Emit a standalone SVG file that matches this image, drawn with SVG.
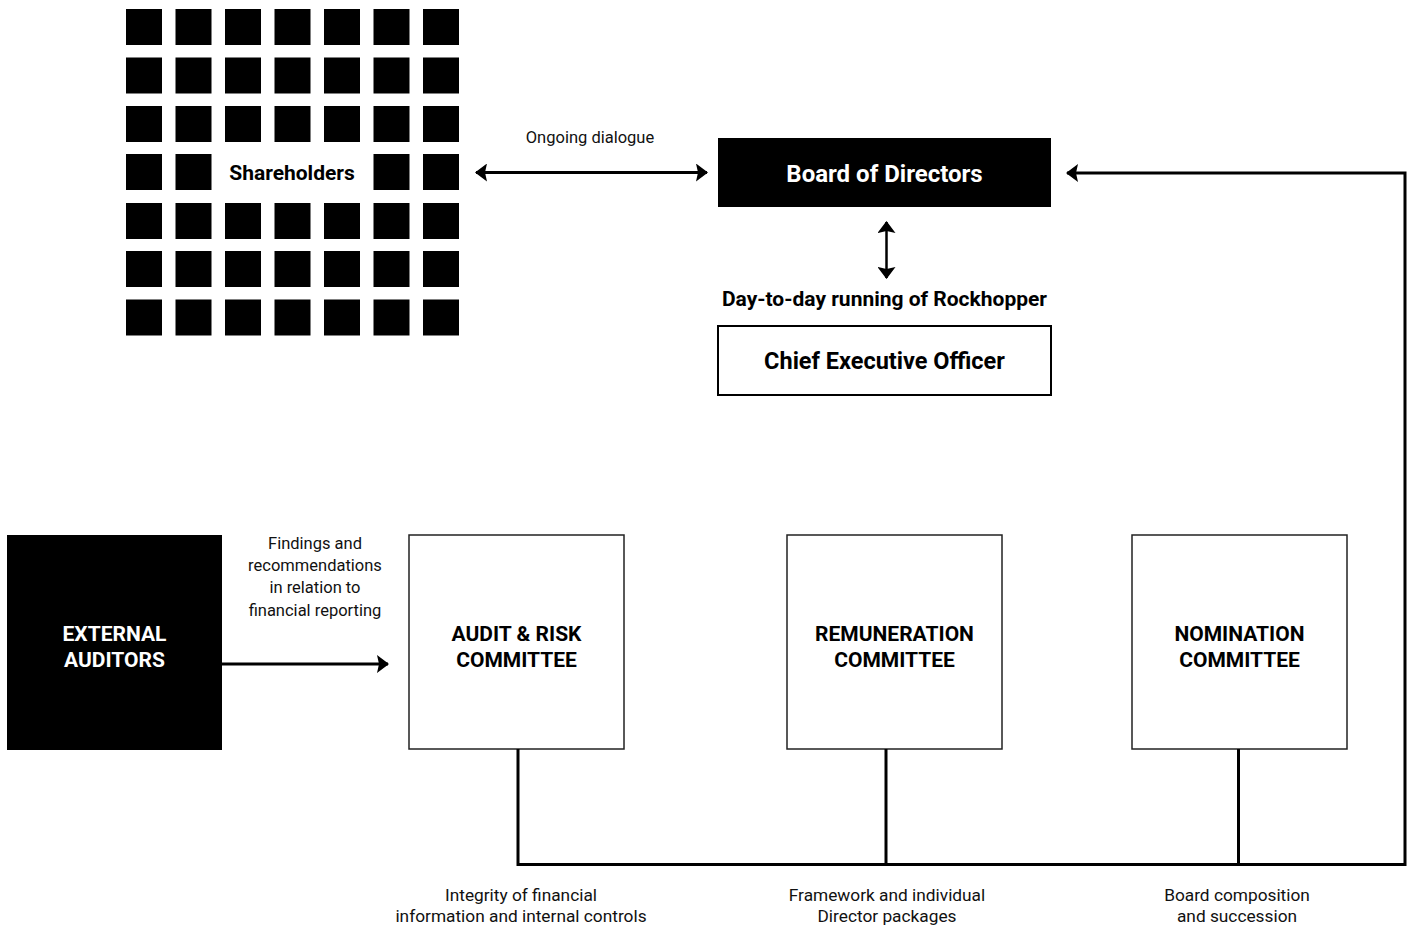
<svg xmlns="http://www.w3.org/2000/svg" width="1413" height="927" viewBox="0 0 1413 927">
<style>
.sq{fill:#000}
.bold{font-family:Roboto,"Liberation Sans",sans-serif;font-weight:bold;text-anchor:middle}
.reg{font-family:Roboto,"Liberation Sans",sans-serif;font-size:16.5px;text-anchor:middle;fill:#111}
.reg2{font-family:Roboto,"Liberation Sans",sans-serif;font-size:17.3px;text-anchor:middle;fill:#111}
.box{fill:#fff;stroke:#222;stroke-width:1.5}
.line{fill:none;stroke:#000;stroke-width:3}
</style>
<defs>
<marker id="ah" viewBox="0 0 12 18" refX="11" refY="9" markerWidth="12" markerHeight="18" markerUnits="userSpaceOnUse" orient="auto-start-reverse">
<path d="M0,0 L12,9 L0,18 L2,9 Z" fill="#000"/>
</marker>
</defs>
<rect width="1413" height="927" fill="#fff"/>
<g id="shareholders">
<g id="grid">
<rect class="sq" x="126" y="9" width="36" height="36"/><rect class="sq" x="175.5" y="9" width="36" height="36"/><rect class="sq" x="225" y="9" width="36" height="36"/><rect class="sq" x="274.5" y="9" width="36" height="36"/><rect class="sq" x="324" y="9" width="36" height="36"/><rect class="sq" x="373.5" y="9" width="36" height="36"/><rect class="sq" x="423" y="9" width="36" height="36"/>
<rect class="sq" x="126" y="57.5" width="36" height="36"/><rect class="sq" x="175.5" y="57.5" width="36" height="36"/><rect class="sq" x="225" y="57.5" width="36" height="36"/><rect class="sq" x="274.5" y="57.5" width="36" height="36"/><rect class="sq" x="324" y="57.5" width="36" height="36"/><rect class="sq" x="373.5" y="57.5" width="36" height="36"/><rect class="sq" x="423" y="57.5" width="36" height="36"/>
<rect class="sq" x="126" y="106" width="36" height="36"/><rect class="sq" x="175.5" y="106" width="36" height="36"/><rect class="sq" x="225" y="106" width="36" height="36"/><rect class="sq" x="274.5" y="106" width="36" height="36"/><rect class="sq" x="324" y="106" width="36" height="36"/><rect class="sq" x="373.5" y="106" width="36" height="36"/><rect class="sq" x="423" y="106" width="36" height="36"/>
<rect class="sq" x="126" y="154" width="36" height="36"/><rect class="sq" x="175.5" y="154" width="36" height="36"/><rect class="sq" x="373.5" y="154" width="36" height="36"/><rect class="sq" x="423" y="154" width="36" height="36"/>
<rect class="sq" x="126" y="203" width="36" height="36"/><rect class="sq" x="175.5" y="203" width="36" height="36"/><rect class="sq" x="225" y="203" width="36" height="36"/><rect class="sq" x="274.5" y="203" width="36" height="36"/><rect class="sq" x="324" y="203" width="36" height="36"/><rect class="sq" x="373.5" y="203" width="36" height="36"/><rect class="sq" x="423" y="203" width="36" height="36"/>
<rect class="sq" x="126" y="251" width="36" height="36"/><rect class="sq" x="175.5" y="251" width="36" height="36"/><rect class="sq" x="225" y="251" width="36" height="36"/><rect class="sq" x="274.5" y="251" width="36" height="36"/><rect class="sq" x="324" y="251" width="36" height="36"/><rect class="sq" x="373.5" y="251" width="36" height="36"/><rect class="sq" x="423" y="251" width="36" height="36"/>
<rect class="sq" x="126" y="299.5" width="36" height="36"/><rect class="sq" x="175.5" y="299.5" width="36" height="36"/><rect class="sq" x="225" y="299.5" width="36" height="36"/><rect class="sq" x="274.5" y="299.5" width="36" height="36"/><rect class="sq" x="324" y="299.5" width="36" height="36"/><rect class="sq" x="373.5" y="299.5" width="36" height="36"/><rect class="sq" x="423" y="299.5" width="36" height="36"/>
</g>
<text class="bold" x="292" y="180" font-size="21">Shareholders</text>
</g>
<g id="board">
<rect x="718" y="138" width="333" height="69" fill="#000"/>
<text class="bold" x="884.5" y="182" font-size="24" fill="#fff">Board of Directors</text>
</g>
<g id="ceo">
<rect x="718" y="326" width="333" height="69" fill="#fff" stroke="#000" stroke-width="2"/>
<text class="bold" x="884.5" y="369" font-size="23.5" fill="#000">Chief Executive Officer</text>
</g>
<g id="external-auditors">
<rect x="7" y="535" width="215" height="215" fill="#000"/>
<text class="bold" x="114.5" y="641" font-size="21" fill="#fff">EXTERNAL</text>
<text class="bold" x="114.5" y="667" font-size="21" fill="#fff">AUDITORS</text>
</g>
<g id="audit-risk">
<rect class="box" x="409" y="535" width="215" height="214"/>
<text class="bold" x="516.5" y="641" font-size="21">AUDIT &amp; RISK</text>
<text class="bold" x="516.5" y="667" font-size="21">COMMITTEE</text>
</g>
<g id="remuneration">
<rect class="box" x="787" y="535" width="215" height="214"/>
<text class="bold" x="894.5" y="641" font-size="21">REMUNERATION</text>
<text class="bold" x="894.5" y="667" font-size="21">COMMITTEE</text>
</g>
<g id="nomination">
<rect class="box" x="1132" y="535" width="215" height="214"/>
<text class="bold" x="1239.5" y="641" font-size="21">NOMINATION</text>
<text class="bold" x="1239.5" y="667" font-size="21">COMMITTEE</text>
</g>
<g id="connectors">
<line class="line" x1="476" y1="172.5" x2="707" y2="172.5" marker-start="url(#ah)" marker-end="url(#ah)"/>
<line class="line" x1="886.5" y1="222" x2="886.5" y2="278" marker-start="url(#ah)" marker-end="url(#ah)" style="stroke-width:2.5"/>
<line class="line" x1="222" y1="664" x2="388" y2="664" marker-end="url(#ah)"/>
<polyline class="line" points="518,749 518,864.5 1405,864.5 1405,173 1067,173" marker-end="url(#ah)"/>
<line class="line" x1="886" y1="749" x2="886" y2="864.5"/>
<line class="line" x1="1238.5" y1="749" x2="1238.5" y2="864.5"/>
<text class="reg" x="590" y="143">Ongoing dialogue</text>
<text class="bold" x="884.5" y="306" font-size="21">Day-to-day running of Rockhopper</text>
<text class="reg" x="315" y="549">Findings and</text>
<text class="reg" x="315" y="571">recommendations</text>
<text class="reg" x="315" y="593">in relation to</text>
<text class="reg" x="315" y="616">financial reporting</text>
<text class="reg2" x="521" y="901">Integrity of financial</text>
<text class="reg2" x="521" y="922">information and internal controls</text>
<text class="reg2" x="887" y="901">Framework and individual</text>
<text class="reg2" x="887" y="922">Director packages</text>
<text class="reg2" x="1237" y="901">Board composition</text>
<text class="reg2" x="1237" y="922">and succession</text>
</g>
</svg>
